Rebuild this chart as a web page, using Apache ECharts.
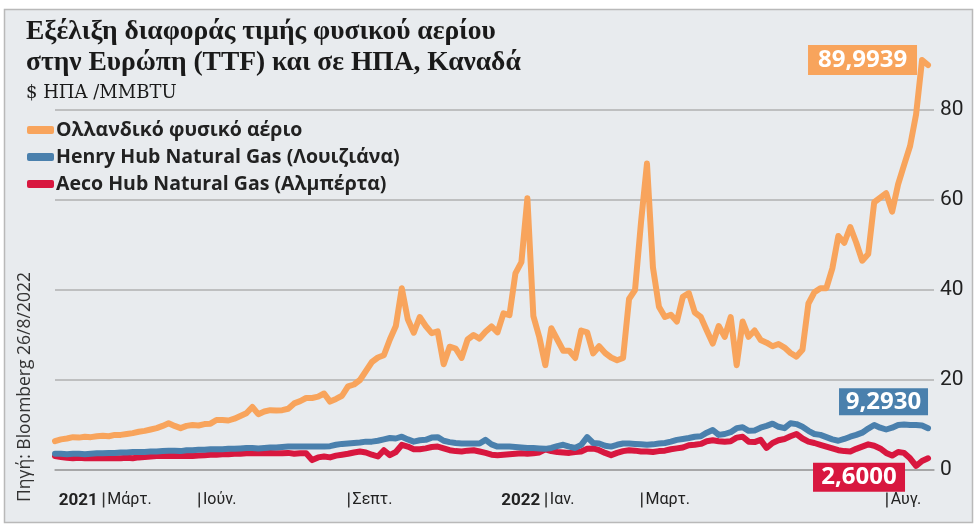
<!DOCTYPE html>
<html><head><meta charset="utf-8">
<script src="https://cdn.jsdelivr.net/npm/echarts@6/dist/echarts.min.js"></script>
<style>html,body{margin:0;padding:0;background:#fff}#c{width:980px;height:530px}</style>
</head><body><div id="c"></div>
<script>
// Dutch TTF, Henry Hub, Aeco (USD/MMBTU)
const ttf = [6.4,6.8,7.0,7.3,7.2,7.4,7.3,7.5,7.6,7.5,7.8,7.8,8.0,8.2,8.5,8.7,9.0,9.3,9.8,10.4,
  9.8,9.3,9.8,10.0,9.9,10.2,10.3,11.1,11.1,11.0,11.4,12.0,12.6,14.0,12.4,13.0,13.3,13.2,13.3,13.6,
  14.8,15.3,16.0,16.0,16.3,17.0,15.2,15.8,16.5,18.6,19.0,20.0,22.0,24.0,25.0,25.5,29.0,32.0,40.4,33.5,
  30.5,34.0,32.0,30.4,30.8,23.5,27.4,27.0,24.9,29.0,30.0,29.2,30.7,31.9,30.6,34.8,34.4,43.7,46.2,60.4,
  34.2,29.5,23.3,31.5,29.0,26.5,26.5,24.9,31.0,30.6,25.9,27.5,26.0,25.0,24.4,24.9,38.0,40.0,55.0,68.1,
  45.0,36.3,34.0,34.5,33.0,38.5,39.3,35.0,34.0,31.0,28.1,32.0,29.6,34.0,23.3,33.0,29.6,31.0,28.9,28.3,
  27.5,28.0,27.2,26.0,25.2,26.7,37.0,39.5,40.4,40.4,44.8,52.0,50.5,54.0,50.5,46.5,48.0,59.5,60.5,61.5,
  57.4,63.5,67.8,72.0,79.0,91.1,89.9939];
const henry = [3.6,3.6,3.5,3.6,3.6,3.5,3.6,3.7,3.7,3.8,3.8,3.9,3.9,4.0,4.0,4.0,4.1,4.1,4.2,4.3,
  4.3,4.2,4.4,4.4,4.5,4.5,4.6,4.6,4.6,4.7,4.7,4.8,4.9,4.9,4.8,4.9,5.0,5.0,5.1,5.2,
  5.2,5.2,5.2,5.2,5.2,5.2,5.3,5.6,5.8,5.9,6.0,6.1,6.3,6.3,6.5,6.8,7.1,7.0,7.4,6.8,
  6.3,6.6,6.7,7.2,7.3,6.5,6.2,6.0,5.9,5.9,5.9,5.9,6.7,5.7,5.2,5.2,5.2,5.1,5.0,4.9,
  4.9,4.8,4.7,4.9,5.3,5.6,5.2,4.9,5.6,7.3,6.0,5.9,5.4,5.2,5.6,5.9,5.9,5.8,5.7,5.6,
  5.7,5.9,6.0,6.3,6.7,6.9,7.1,7.4,7.5,8.3,8.9,7.8,8.0,8.4,9.3,9.5,8.7,8.8,9.4,9.8,
  10.3,9.6,9.3,10.4,10.2,9.6,8.7,8.0,7.8,7.3,6.8,6.5,6.9,7.4,7.8,8.3,9.2,10.0,9.4,9.0,
  9.4,10.0,10.1,10.0,10.0,9.9,9.293];
const aeco = [3.1,2.9,2.7,2.6,2.7,2.6,2.6,2.6,2.6,2.6,2.6,2.6,2.7,2.6,2.8,2.9,3.0,3.1,3.1,3.1,
  3.1,3.1,3.1,3.1,3.2,3.3,3.4,3.4,3.5,3.5,3.6,3.6,3.7,3.7,3.7,3.7,3.8,3.7,3.7,3.8,
  3.6,3.7,3.7,2.2,2.8,3.0,2.8,3.2,3.4,3.6,3.9,4.1,3.9,3.4,3.0,4.4,3.3,4.0,5.6,5.2,
  4.6,4.6,4.8,5.1,5.2,4.8,4.4,4.2,4.1,4.3,4.4,4.1,3.8,3.4,3.3,3.4,3.5,3.6,3.7,3.6,
  3.7,3.9,4.6,4.2,4.0,3.9,3.8,4.0,4.1,4.7,4.8,4.4,3.8,3.3,3.8,4.2,4.4,4.3,4.1,4.1,
  4.0,4.2,4.3,4.6,4.8,5.0,5.5,5.6,5.8,6.4,6.6,6.4,6.3,6.4,7.2,7.4,6.3,6.2,6.7,4.9,
  6.0,6.6,6.9,7.5,8.0,7.0,6.3,6.0,5.6,5.2,4.8,4.4,4.2,4.1,4.7,5.2,5.7,5.4,4.8,3.8,
  3.2,4.0,3.8,2.6,0.9,2.0,2.6];
const seriesNames = ['Ολλανδικό φυσικό αέριο', 'Henry Hub Natural Gas (Λουιζιάνα)', 'Aeco Hub Natural Gas (Αλμπέρτα)'];
const endLabels = ['89,9939', '9,2930', '2,6000'];
const monthTicks = {8: 'Μάρτ.', 24: 'Ιούν.', 49: 'Σεπτ.', 82: 'Ιαν.', 98: 'Μαρτ.', 139: 'Αυγ.'};
const yearTicks = {8: '2021', 82: '2022'};

// category keys (approx. 3.75-day steps), one extra at the end for right padding
const categories = [];
const t0 = Date.UTC(2021, 1, 26);
for (let i = 0; i < ttf.length + 1; i++) {
  categories.push(new Date(t0 + i * 3.75 * 86400000).toISOString().slice(0, 10));
}

const NARROW = "'Liberation Sans Narrow','Roboto','Noto Sans',sans-serif";
const SANS = "'Open Sans','Noto Sans',sans-serif";
const C_ORANGE = '#f8a45c', C_BLUE = '#4a80ad', C_RED = '#d8173f';
const last = ttf.length - 1;

function mp(val, lbl, color, size, offset) {
  return {
    symbol: 'rect', symbolSize: size, symbolOffset: offset, silent: true,
    itemStyle: {color: color},
    label: {show: true, position: 'inside', formatter: lbl, color: '#fff', fontFamily: SANS, fontWeight: 'bold', fontSize: 24},
    data: [{coord: [last, val]}]
  };
}

const chart = echarts.init(document.getElementById('c'), null, {renderer: 'canvas'});
chart.setOption({
  backgroundColor: '#fff',
  animation: false,
  graphic: [
    {type: 'rect', z: -10, shape: {x: 4.5, y: 9.5, width: 968, height: 513}, style: {fill: '#e8ebee', stroke: '#b9b9b9', lineWidth: 1.5}},
    {type: 'text', x: 25, y: 387, rotation: Math.PI / 2, style: {text: 'Πηγή: Bloomberg 26/8/2022', font: "17.5px 'Open Sans'", fill: '#333', align: 'center', verticalAlign: 'middle'}}
  ],
  title: {
    text: 'Εξέλιξη διαφοράς τιμής φυσικού αερίου\nστην Ευρώπη (TTF) και σε ΗΠΑ, Καναδά',
    subtext: '$ ΗΠΑ /MMBTU',
    left: 21, top: 12, itemGap: 4,
    textStyle: {fontFamily: "'Liberation Serif',serif", fontWeight: 'bold', fontSize: 27.5, lineHeight: 30.5, color: '#1a1a1a'},
    subtextStyle: {fontFamily: "'DejaVu Serif',serif", fontSize: 18, color: '#1a1a1a', lineHeight: 22}
  },
  legend: {
    data: seriesNames, orient: 'vertical', left: 22, top: 115, itemGap: 7,
    icon: 'roundRect', itemWidth: 27, itemHeight: 8,
    textStyle: {fontFamily: SANS, fontWeight: 'bold', fontSize: 19.5, color: '#222', lineHeight: 20, padding: [0, 0, 0, -3]},
    selectedMode: false
  },
  grid: {left: 55, right: 46, top: 20, bottom: 60, containLabel: false},
  xAxis: [{
    type: 'category', data: categories, boundaryGap: false, position: 'bottom', offset: 15,
    axisLine: {show: true, lineStyle: {color: '#a0a0a0', width: 1.5}},
    axisTick: {show: false}, splitLine: {show: false},
    axisLabel: {
      interval: (i) => monthTicks[i] !== undefined,
      formatter: (v, i) => '{s|}{t|' + (monthTicks[i] || '') + '}',
      align: 'left', margin: 7,
      rich: {s: {width: 1.5, height: 15, backgroundColor: '#333'}, t: {fontFamily: NARROW, fontSize: 16, color: '#222', padding: [0, 0, 0, 3]}}
    }
  }, {
    type: 'category', data: categories, boundaryGap: false, position: 'bottom', offset: 15,
    axisLine: {show: false}, axisTick: {show: false}, splitLine: {show: false},
    axisLabel: {
      interval: (i) => yearTicks[i] !== undefined,
      formatter: (v, i) => yearTicks[i] || '',
      align: 'right', margin: 7, padding: [0, 5, 0, 0],
      fontFamily: NARROW, fontWeight: 'bold', fontSize: 17, color: '#222'
    }
  }],
  yAxis: {
    type: 'value', min: 0, max: 100, interval: 20, position: 'right',
    axisLine: {show: false}, axisTick: {show: false},
    axisLabel: {formatter: (v) => v === 100 ? '' : String(v), margin: 6, fontFamily: NARROW, fontSize: 21, color: '#222'},
    splitLine: {show: true, lineStyle: {color: ['#b0b0b0', '#b0b0b0', '#b0b0b0', '#b0b0b0', '#b0b0b0', 'rgba(0,0,0,0)'], width: 1.5}}
  },
  series: [
    {name: seriesNames[2], type: 'line', data: aeco, showSymbol: false, z: 2,
      lineStyle: {color: C_RED, width: 6, cap: 'round', join: 'round'}, itemStyle: {color: C_RED},
      markPoint: mp(aeco[last], endLabels[2], C_RED, [92, 29], [-69, 19])},
    {name: seriesNames[1], type: 'line', data: henry, showSymbol: false, z: 3,
      lineStyle: {color: C_BLUE, width: 6, cap: 'round', join: 'round'}, itemStyle: {color: C_BLUE},
      markPoint: mp(henry[last], endLabels[1], C_BLUE, [89, 27], [-44.5, -26.5])},
    {name: seriesNames[0], type: 'line', data: ttf, showSymbol: false, z: 4,
      lineStyle: {color: C_ORANGE, width: 6, cap: 'round', join: 'round'}, itemStyle: {color: C_ORANGE},
      markPoint: mp(ttf[last], endLabels[0], C_ORANGE, [109, 30], [-65.5, -5])}
  ]
});
</script></body></html>
